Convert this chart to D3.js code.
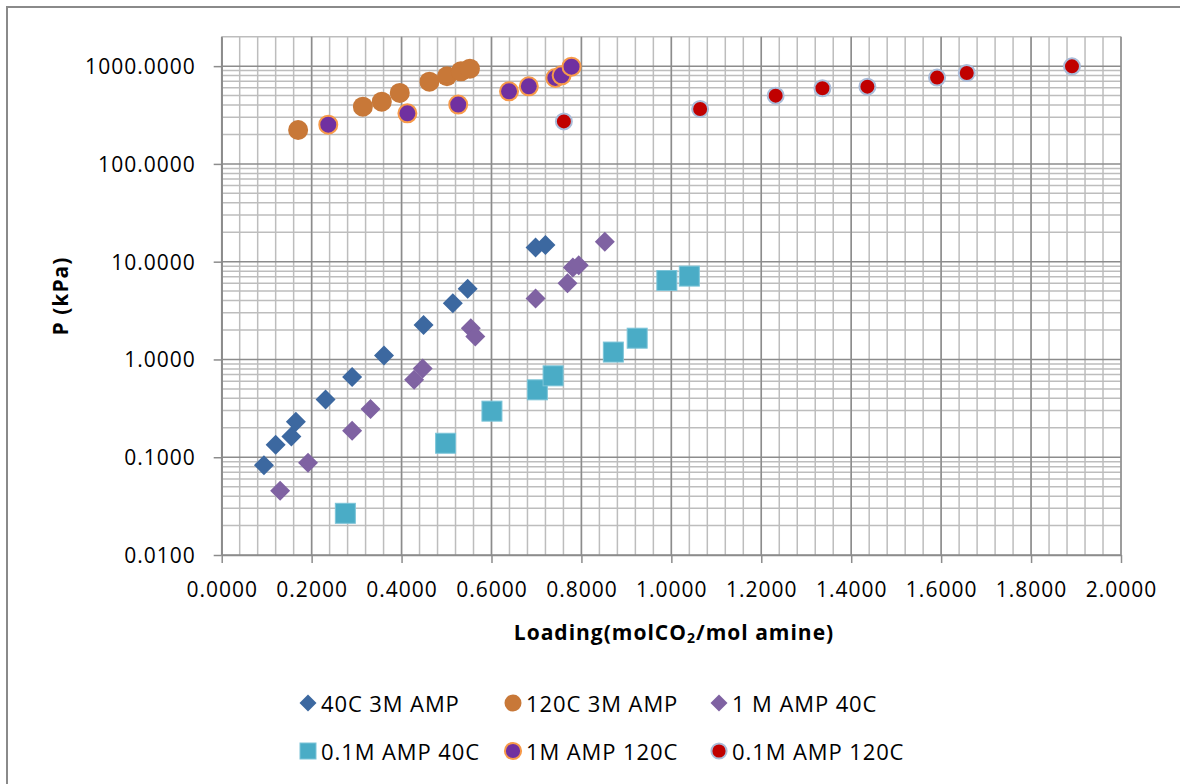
<!DOCTYPE html>
<html>
<head>
<meta charset="utf-8">
<script src="https://cdn.jsdelivr.net/npm/d3@7"></script>
<style>
  body { margin: 0; background: #fff; }
  svg text { font-family: "Open Sans", "DejaVu Sans", sans-serif; fill: #000; }
</style>
</head>
<body>
<svg id="chart" width="1180" height="784"></svg>
<script>
// data (loading, P in kPa)
var s1x = [0.094, 0.120, 0.155, 0.165, 0.231, 0.290, 0.361, 0.449, 0.514, 0.547, 0.698, 0.720];
var s1y = [0.083, 0.134, 0.163, 0.23, 0.39, 0.66, 1.10, 2.25, 3.75, 5.3, 14.0, 14.8];

var s2x = [0.170, 0.314, 0.356, 0.396, 0.462, 0.501, 0.532, 0.552];
var s2y = [222, 385, 433, 532, 694, 787, 885, 942];

var s3x = [0.130, 0.192, 0.290, 0.331, 0.428, 0.447, 0.554, 0.564, 0.698, 0.769, 0.781, 0.794, 0.852];
var s3y = [0.0455, 0.088, 0.187, 0.312, 0.62, 0.81, 2.09, 1.72, 4.2, 6.0, 8.7, 9.2, 16.0];

var s4x = [0.275, 0.498, 0.601, 0.702, 0.737, 0.871, 0.924, 0.990, 1.040];
var s4y = [0.0267, 0.139, 0.296, 0.489, 0.68, 1.19, 1.65, 6.42, 7.12];

var s5x = [0.237, 0.413, 0.526, 0.639, 0.683, 0.742, 0.756, 0.778];
var s5y = [252, 329, 404, 552, 621, 757, 805, 988];

var s6x = [0.761, 1.064, 1.232, 1.336, 1.436, 1.591, 1.657, 1.891];
var s6y = [272, 365, 499, 593, 617, 763, 852, 995];

var seriesNames = ["40C 3M AMP", "120C 3M AMP", "1 M AMP 40C", "0.1M AMP 40C", "1M AMP 120C", "0.1M AMP 120C"];
var xTicks = [0, 0.2, 0.4, 0.6, 0.8, 1.0, 1.2, 1.4, 1.6, 1.8, 2.0];
var yTicks = [0.01, 0.1, 1, 10, 100, 1000];

var svg = d3.select("#chart");

// outer chart border
svg.append("rect")
    .attr("x", 7).attr("y", 7)
    .attr("width", 1200).attr("height", 800)
    .attr("fill", "#fff")
    .attr("stroke", "#8a8a8a")
    .attr("stroke-width", 2);

var plotL = 221.7, plotR = 1121, plotT = 36.7, plotB = 555;

var x = d3.scaleLinear().domain([0, 2]).range([plotL, plotR]);
var y = d3.scaleLog().domain([0.01, 2000]).range([plotB, plotT]);

// minor grid
var minorX = d3.range(0, 2.0001, 0.04);
var minorY = [];
yTicks.forEach(function(d) {
    for (var k = 2; k <= 9; k++) {
        if (d * k <= 2000) minorY.push(d * k);
    }
});

var grid = svg.append("g");
grid.selectAll(".mx").data(minorX).enter().append("line")
    .attr("x1", function(d) { return x(d); }).attr("x2", function(d) { return x(d); })
    .attr("y1", plotT).attr("y2", plotB)
    .attr("stroke", "#bdbdbd").attr("stroke-width", 1.5);
grid.selectAll(".my").data(minorY).enter().append("line")
    .attr("x1", plotL).attr("x2", plotR)
    .attr("y1", function(d) { return y(d); }).attr("y2", function(d) { return y(d); })
    .attr("stroke", "#bdbdbd").attr("stroke-width", 1.5);

// major grid
grid.selectAll(".Mx").data(xTicks).enter().append("line")
    .attr("x1", function(d) { return x(d); }).attr("x2", function(d) { return x(d); })
    .attr("y1", plotT).attr("y2", plotB)
    .attr("stroke", "#8c8c8c").attr("stroke-width", 1.5);
grid.selectAll(".My").data(yTicks).enter().append("line")
    .attr("x1", plotL).attr("x2", plotR)
    .attr("y1", function(d) { return y(d); }).attr("y2", function(d) { return y(d); })
    .attr("stroke", "#8c8c8c").attr("stroke-width", 1.5);

// axes
var xAxis = svg.append("g")
    .attr("transform", "translate(0," + plotB + ")")
    .call(d3.axisBottom(x).tickValues(xTicks).tickFormat(d3.format(".4f")).tickSize(8).tickSizeOuter(0).tickPadding(19));
var yAxis = svg.append("g")
    .attr("transform", "translate(" + plotL + ",0)")
    .call(d3.axisLeft(y).tickValues(yTicks).tickFormat(d3.format(".4f")).tickSize(8).tickSizeOuter(0).tickPadding(18));

[xAxis, yAxis].forEach(function(a) {
    a.select(".domain").attr("stroke", "#8c8c8c").attr("stroke-width", 1.5);
    a.selectAll(".tick line").attr("stroke", "#8c8c8c").attr("stroke-width", 1.5);
    a.selectAll(".tick text")
        .attr("fill", "#000")
        .style("font-size", "21px")
        .style("letter-spacing", "1px")
        .style("font-family", "'Open Sans', sans-serif");
});
xAxis.selectAll(".tick text").attr("dy", "0.71em");
yAxis.selectAll(".tick text").attr("dy", "0.35em");

// axis titles
svg.append("text")
    .attr("transform", "translate(60,296) rotate(-90)")
    .attr("text-anchor", "middle")
    .attr("dominant-baseline", "central")
    .style("font-size", "21px").style("font-weight", "bold").style("letter-spacing", "1px")
    .text("P (kPa)");

var xt = svg.append("text")
    .attr("x", 674).attr("y", 632)
    .attr("text-anchor", "middle")
    .attr("dominant-baseline", "central")
    .style("font-size", "21px").style("font-weight", "bold").style("letter-spacing", "1px");
xt.append("tspan").text("Loading(molCO");
xt.append("tspan").attr("dy", 5).style("font-size", "14px").text("2");
xt.append("tspan").attr("dy", -5).text("/mol amine)");

// marker drawing helpers
function diamond(g, cx, cy, half, fill) {
    var s = half * Math.SQRT2;
    g.append("path")
        .attr("d", d3.symbol(d3.symbolSquare, s * s)())
        .attr("transform", "translate(" + cx + "," + cy + ") rotate(45)")
        .attr("fill", fill);
}
function square(g, cx, cy, side, fill, stroke) {
    g.append("rect")
        .attr("x", cx - side / 2).attr("y", cy - side / 2)
        .attr("width", side).attr("height", side)
        .attr("fill", fill).attr("stroke", stroke).attr("stroke-width", 1);
}
function circle(g, cx, cy, r, fill, stroke, sw) {
    g.append("circle")
        .attr("cx", cx).attr("cy", cy).attr("r", r)
        .attr("fill", fill)
        .attr("stroke", stroke || "none").attr("stroke-width", sw || 0);
}

var styles = [
    function(g, cx, cy, k) { diamond(g, cx, cy, 10 * k, "#3c68a0"); },
    function(g, cx, cy, k) { circle(g, cx, cy, 10 * k, "#c87838"); },
    function(g, cx, cy, k) { diamond(g, cx, cy, 10 * k, "#7f62a2"); },
    function(g, cx, cy, k) { square(g, cx, cy, 20 * k, "#4aacc6", "#7cc4d8"); },
    function(g, cx, cy, k) { circle(g, cx, cy, 9 * k, "#7030a0", "#f79a4a", 2); },
    function(g, cx, cy, k) { circle(g, cx, cy, 8 * k, "#c00000", "#a9bcd9", 2); }
];

var allX = [s1x, s2x, s3x, s4x, s5x, s6x];
var allY = [s1y, s2y, s3y, s4y, s5y, s6y];

var marks = svg.append("g");
allX.forEach(function(xs, i) {
    var g = marks.append("g").attr("class", "series");
    xs.forEach(function(v, j) {
        styles[i](g, x(v), y(allY[i][j]), 1);
    });
});

// legend
var legendCols = [308, 513, 719];
var legendRows = [703, 751];
var legendScale = [0.85, 0.85, 0.85, 0.8, 0.9, 0.95];
var legend = svg.append("g");
seriesNames.forEach(function(name, i) {
    var cx = legendCols[i % 3], cy = legendRows[Math.floor(i / 3)];
    styles[i](legend, cx, cy, legendScale[i]);
    legend.append("text")
        .attr("x", cx + 13).attr("y", cy)
        .attr("dominant-baseline", "central")
        .style("font-size", "22px")
        .style("letter-spacing", "0.9px")
        .text(name);
});
</script>
</body>
</html>
